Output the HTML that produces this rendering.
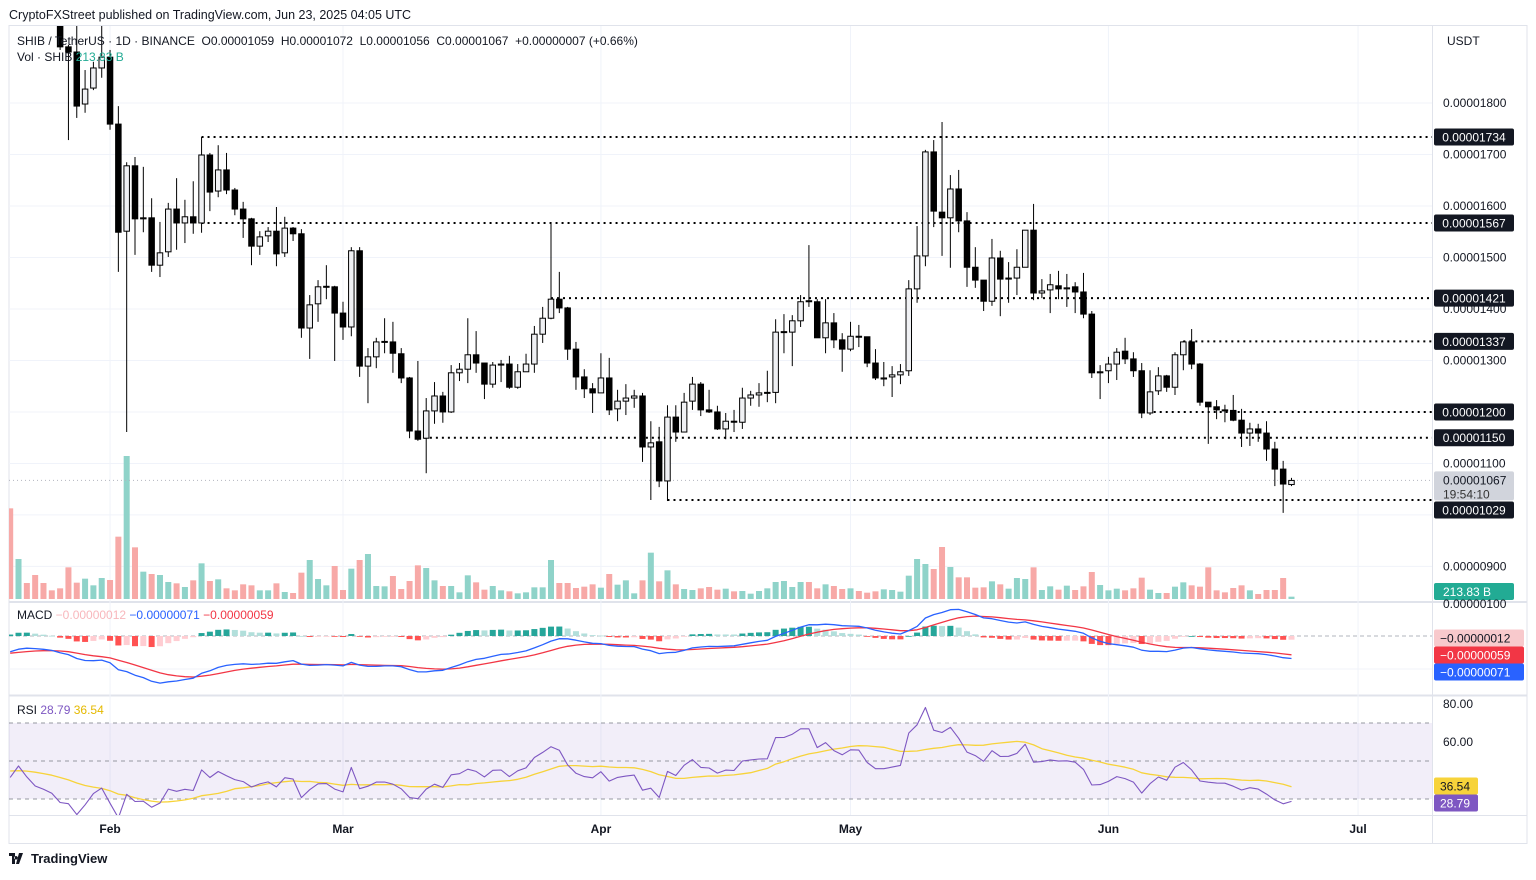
<!DOCTYPE html>
<html><head><meta charset="utf-8">
<style>
html,body{margin:0;padding:0;background:#fff;}
body{width:1536px;height:875px;overflow:hidden;font-family:"Liberation Sans",Arial,sans-serif;}
svg text{font-family:"Liberation Sans",Arial,sans-serif;}
</style></head>
<body>
<svg id="chart" width="1536" height="875" viewBox="0 0 1536 875" xmlns="http://www.w3.org/2000/svg">
  <defs>
    <clipPath id="pricePane"><rect x="9" y="26" width="1423" height="575"/></clipPath>
    <clipPath id="macdPane"><rect x="9" y="603" width="1423" height="91"/></clipPath>
    <clipPath id="rsiPane"><rect x="9" y="697" width="1423" height="118"/></clipPath>
  </defs>
  <text x="9" y="19" font-size="12.5" fill="#131722">CryptoFXStreet published on TradingView.com, Jun 23, 2025 04:05 UTC</text>
  <rect x="9" y="25.5" width="1518" height="818" fill="none" stroke="#e0e3eb"/>
  <line x1="1432.5" y1="26" x2="1432.5" y2="843" stroke="#e0e3eb"/>
  <line x1="9" y1="602" x2="1527" y2="602" stroke="#e0e3eb" stroke-width="2"/>
  <line x1="9" y1="695.5" x2="1527" y2="695.5" stroke="#e0e3eb" stroke-width="2"/>
  <line x1="9" y1="815.5" x2="1527" y2="815.5" stroke="#e0e3eb"/>
  <g id="grid"></g>
  <g id="rsiBand"></g>
  <g id="vol" clip-path="url(#pricePane)"></g>
  <g id="levels"></g>
  <g id="candles" clip-path="url(#pricePane)"></g>
  <g id="macd" clip-path="url(#macdPane)"></g>
  <g id="rsi" clip-path="url(#rsiPane)"></g>
  <g id="axis"></g>

  <rect x="12" y="31" width="625" height="16" fill="#ffffff" fill-opacity="0.0"/>
  <text x="17" y="45" font-size="12" fill="#131722">SHIB / TetherUS · 1D · BINANCE &#160;O0.00001059 &#160;H0.00001072 &#160;L0.00001056 &#160;C0.00001067 &#160;+0.00000007 (+0.66%)</text>
  <text x="17" y="61" font-size="12" fill="#131722">Vol · SHIB <tspan fill="#22ab94">213.83 B</tspan></text>
  <text x="17" y="619" font-size="12" fill="#131722">MACD <tspan fill="#f8b7bc">−0.00000012</tspan> <tspan fill="#2962ff">−0.00000071</tspan> <tspan fill="#f23645">−0.00000059</tspan></text>
  <text x="17" y="714" font-size="12" fill="#131722">RSI <tspan fill="#7e57c2">28.79</tspan> <tspan fill="#e5b900">36.54</tspan></text>
  <text x="1447" y="45" font-size="12" fill="#131722">USDT</text>
  <g>
    <path d="M9 853 h6 v11 h-3 v-8 h-3z M16 856 a1.8 1.8 0 1 0 0.01 0z M19 853 h4 l-4 11 h-3z" fill="#131722"/>
    <text x="31" y="863" font-size="13" font-weight="bold" fill="#131722">TradingView</text>
  </g>
</svg>
<script>
// ---------- DATA (prices in units of 1e-8 USDT; first bar = Jan 20, 2025) ----------
const startLabel = "2025-01-20";
const open  = [2150,2080,2120,2070,2020,2000,1971,1909,1899,1798,1829,1868,1889,1759,1551,1678,1575,1577,1485,1511,1594,1567,1579,1567,1699,1629,1670,1631,1594,1575,1522,1542,1551,1509,1557,1546,1363,1410,1443,1443,1392,1365,1513,1289,1307,1336,1336,1313,1266,1163,1149,1202,1231,1200,1276,1283,1311,1295,1254,1291,1293,1248,1278,1293,1351,1382,1419,1402,1322,1268,1245,1237,1266,1206,1221,1227,1231,1132,1142,1066,1190,1161,1221,1254,1204,1200,1167,1182,1180,1227,1233,1237,1238,1355,1355,1377,1416,1414,1344,1373,1340,1322,1347,1346,1295,1264,1268,1272,1280,1439,1503,1705,1588,1577,1633,1571,1481,1456,1415,1499,1458,1460,1481,1553,1431,1437,1445,1439,1443,1433,1390,1276,1280,1293,1318,1303,1280,1198,1241,1270,1248,1311,1336,1293,1219,1210,1204,1203,1184,1159,1167,1159,1128,1089,1059];
const high  = [2200,2140,2160,2110,2060,2030,1981,1913,1961,1864,1880,1951,1903,1794,1685,1695,1676,1615,1569,1606,1654,1612,1648,1734,1703,1718,1703,1635,1608,1577,1551,1559,1598,1579,1559,1555,1427,1456,1485,1445,1414,1520,1520,1324,1344,1382,1375,1324,1268,1299,1227,1258,1239,1291,1295,1382,1357,1295,1297,1301,1309,1293,1313,1367,1404,1567,1472,1404,1336,1283,1256,1314,1305,1243,1254,1243,1237,1182,1171,1213,1213,1237,1268,1258,1243,1212,1198,1204,1247,1241,1256,1280,1380,1390,1388,1427,1524,1419,1419,1392,1353,1375,1369,1346,1322,1297,1289,1293,1456,1561,1709,1728,1763,1660,1670,1588,1520,1456,1536,1513,1491,1516,1553,1604,1458,1468,1474,1468,1452,1470,1396,1291,1307,1324,1344,1316,1295,1281,1287,1272,1316,1338,1361,1295,1219,1223,1214,1233,1206,1179,1177,1182,1142,1105,1072];
const low   = [2060,2060,2050,2000,1990,1962,1903,1728,1771,1781,1825,1849,1748,1472,1161,1505,1549,1472,1462,1501,1515,1528,1546,1548,1590,1617,1623,1582,1538,1485,1505,1530,1483,1501,1532,1344,1303,1375,1419,1299,1340,1347,1268,1217,1285,1314,1276,1256,1149,1144,1081,1177,1179,1198,1260,1256,1276,1225,1247,1258,1245,1245,1278,1276,1334,1380,1392,1301,1243,1227,1198,1237,1194,1182,1194,1208,1103,1029,1054,1027,1142,1161,1204,1192,1198,1165,1147,1161,1167,1212,1210,1219,1217,1314,1289,1365,1404,1344,1314,1324,1278,1318,1326,1287,1262,1250,1229,1254,1270,1412,1483,1559,1503,1480,1549,1443,1441,1396,1406,1386,1412,1427,1481,1417,1421,1392,1419,1404,1392,1382,1266,1225,1256,1262,1293,1268,1188,1194,1233,1239,1233,1281,1283,1212,1138,1186,1180,1182,1132,1134,1142,1105,1056,1004,1056];
const close = [2080,2120,2070,2020,2000,1975,1909,1899,1794,1827,1868,1889,1759,1549,1678,1575,1577,1485,1509,1594,1567,1579,1567,1699,1627,1670,1631,1594,1575,1522,1540,1551,1507,1557,1546,1363,1408,1443,1444,1392,1365,1513,1289,1307,1336,1337,1314,1266,1163,1147,1202,1231,1200,1276,1283,1311,1295,1254,1291,1293,1248,1278,1293,1351,1382,1419,1402,1322,1268,1245,1237,1266,1204,1221,1227,1231,1132,1140,1066,1190,1161,1219,1254,1204,1200,1167,1182,1180,1227,1233,1237,1238,1355,1356,1377,1414,1414,1344,1373,1340,1322,1347,1346,1295,1266,1266,1272,1278,1439,1503,1705,1590,1577,1633,1571,1481,1456,1415,1499,1458,1460,1481,1553,1431,1435,1447,1439,1441,1433,1390,1276,1278,1293,1316,1303,1280,1198,1239,1270,1248,1311,1336,1293,1219,1210,1204,1203,1184,1159,1167,1159,1128,1089,1060,1067];
// volume in units of 30B
const volume = [272,120,48,72,48,26,32,95,49,61,41,63,57,187,429,155,82,75,72,51,47,36,56,107,54,59,32,26,44,41,26,26,47,21,18,79,117,60,41,99,27,91,117,135,39,38,69,30,54,101,93,56,39,39,20,71,50,28,39,26,23,17,20,35,35,117,48,48,33,37,44,34,75,43,56,17,56,139,53,86,44,30,27,32,36,28,31,23,24,16,24,32,51,54,36,51,51,32,44,39,30,32,24,19,23,29,27,22,70,120,105,90,156,96,65,65,34,35,53,44,31,63,60,95,27,38,28,40,27,38,81,42,26,31,26,32,64,28,18,18,37,50,41,37,95,26,20,33,41,26,15,27,27,63,7];
const priceTicks = [1800,1700,1600,1500,1400,1300,1100,900];
const priceTickLabels = ["0.00001800","0.00001700","0.00001600","0.00001500","0.00001400","0.00001300","0.00001100","0.00000900"];
const levelPrices = [1734,1567,1421,1337,1200,1150,1029];
const levelStartBar = [23,23,65,141,136,49,79];
const levelLabels = ["0.00001734","0.00001567","0.00001421","0.00001337","0.00001200","0.00001150","0.00001029"];
const monthLabels = ["Feb","Mar","Apr","May","Jun","Jul"];
const monthBar = [12,40,71,101,132,162];
const rsiTicks = [80,60];
const rsiTickLabels = ["80.00","60.00"];

// ---------- AXES ----------
const NS = "http://www.w3.org/2000/svg";
function mk(tag, attrs, parent){const e=document.createElementNS(NS,tag);for(const k in attrs)e.setAttribute(k,attrs[k]);parent.appendChild(e);return e;}
const X0 = 10.2, DX = 8.32;
function xOf(i){return X0 + i*DX;}
function yPrice(p){return (2000 - p)/1.942;}
function yVol(v){return 599 - v/3;}
const MACD_ZERO = 636, MACD_K = 0.32;
function yMacd(v){return MACD_ZERO - v*MACD_K;}
function yRsi(v){return 742 + (60 - v)*1.9;}

const grid = document.getElementById('grid');
const axis = document.getElementById('axis');
priceTicks.forEach((p,k)=>{
  const g = mk('line',{x1:9,x2:1432,y1:yPrice(p),y2:yPrice(p),stroke:'#f0f3fa'},grid);
  
  
  const t = mk('text',{x:1443,y:yPrice(p)+4,'font-size':12,fill:'#131722'},axis);
  t.textContent = priceTickLabels[k];
  
  
});
[1200,1000].forEach(p=>{
  const g = mk('line',{x1:9,x2:1432,y1:yPrice(p),y2:yPrice(p),stroke:'#f0f3fa'},grid);
  
  
});
monthBar.forEach((b,k)=>{
  const x = xOf(b);
  const g = mk('line',{x1:x,x2:x,y1:26,y2:815,stroke:'#f0f3fa'},grid);
  
  
  const t = mk('text',{x:x,y:833,'font-size':12,'font-weight':'bold','text-anchor':'middle',fill:'#131722'},axis);
  t.textContent = monthLabels[k];
  
  
});
// volume axis label
{
  const t = mk('text',{x:1443,y:608,'font-size':12,fill:'#131722'},axis);
  t.textContent = "0.00000100";
  
  
}
// MACD zero line
{
  const z = mk('line',{x1:9,x2:1432,y1:MACD_ZERO,y2:MACD_ZERO,stroke:'#b2b5be','stroke-dasharray':'4 3'},grid);
  
  
  const g2 = mk('line',{x1:9,x2:1432,y1:669,y2:669,stroke:'#f0f3fa'},grid);
  
  
}
// RSI band and grid
{
  const band = document.getElementById('rsiBand');
  const r = mk('rect',{x:9,y:yRsi(70),width:1423,height:yRsi(30)-yRsi(70),fill:'#7e57c2','fill-opacity':0.1},band);
  
  
  [70,50,30].forEach(v=>{
    const l = mk('line',{x1:9,x2:1432,y1:yRsi(v),y2:yRsi(v),stroke:'#9598a1','stroke-dasharray':'4 4'},band);
    
    
  });
  rsiTicks.forEach((v,k)=>{
    const t = mk('text',{x:1443,y:yRsi(v)+4,'font-size':12,fill:'#131722'},axis);
    t.textContent = rsiTickLabels[k];
    
    
  });
}

// ---------- VOLUME ----------
const vg = document.getElementById('vol');
volume.forEach((v,i)=>{
  const up = close[i] >= open[i];
  const r = mk('rect',{x:xOf(i)-3,y:yVol(v),width:6,height:599-yVol(v),fill:up?'#8fd3c9':'#f7a9a7'},vg);
  
  
});

// ---------- CANDLES ----------
const cg = document.getElementById('candles');
for(let i=0;i<close.length;i++){
  const x = xOf(i);
  const w = mk('line',{x1:x,x2:x,y1:yPrice(high[i]),y2:yPrice(low[i]),stroke:'#000','stroke-width':1},cg);
  
  
  const up = close[i] >= open[i];
  const yt = yPrice(Math.max(open[i],close[i])), yb = yPrice(Math.min(open[i],close[i]));
  const b = mk('rect',{x:x-2.75,y:yt,width:5.5,height:Math.max(1,yb-yt),fill:up?'#f0f1f4':'#000',stroke:'#000','stroke-width':1},cg);
  
  
}

// ---------- LEVELS ----------
const lg = document.getElementById('levels');
const lastY = yPrice(close[close.length-1]);
{
  const l = mk('line',{x1:9,x2:1432,y1:lastY,y2:lastY,stroke:'#b2b5be','stroke-dasharray':'1 3'},lg);
  
  
}
levelPrices.forEach((p,k)=>{
  const y = yPrice(p);
  const l = mk('line',{x1:xOf(levelStartBar[k]),x2:1432,y1:y,y2:y,stroke:'#000','stroke-width':2,'stroke-dasharray':'2 4'},lg);
  
  
  const ty = (k===levelPrices.length-1) ? y+10 : y;
  const r = mk('rect',{x:1434,y:ty-8.5,width:80,height:17,rx:2,fill:'#131722'},lg);
  
  
  const t = mk('text',{x:1474,y:ty+4.5,'font-size':12,'text-anchor':'middle',fill:'#fff'},lg);
  t.textContent = levelLabels[k];
  
  
});
{
  const r = mk('rect',{x:1434,y:lastY-9,width:80,height:29,rx:2,fill:'#d1d4dc'},lg);
  
  
  const t = mk('text',{x:1443,y:lastY+4,'font-size':12,fill:'#131722'},lg);
  t.textContent = "0.00001067";
  
  
  const t2 = mk('text',{x:1443,y:lastY+18,'font-size':12,fill:'#333'},lg);
  t2.textContent = "19:54:10";
  
  
  const vr = mk('rect',{x:1434,y:583,width:80,height:17,rx:2,fill:'#22ab94'},lg);
  
  
  const vt = mk('text',{x:1443,y:596,'font-size':12,fill:'#fff'},lg);
  vt.textContent = "213.83 B";
  
  
}

// ---------- MACD (12,26,9) ----------
const macdLine=[], signalLine=[], hist=[];
{
  let e12 = close[0] - 20, e26 = close[0] + 35, sig = -55;
  const a12=2/13, a26=2/27, a9=2/10;
  for(let i=0;i<close.length;i++){
    e12 = e12 + a12*(close[i]-e12);
    e26 = e26 + a26*(close[i]-e26);
    const m = e12 - e26;
    sig = sig + a9*(m - sig);
    macdLine.push(m); signalLine.push(sig); hist.push(m - sig);
  }
}
const mg = document.getElementById('macd');
hist.forEach((h,i)=>{
  const prev = i>0 ? hist[i-1] : h;
  let col;
  if(h>=0) col = h>=prev ? '#26a69a' : '#b2dfdb';
  else col = h<=prev ? '#ff5252' : '#ffcdd2';
  const y1 = yMacd(Math.max(h,0)), y2 = yMacd(Math.min(h,0));
  const r = mk('rect',{x:xOf(i)-3,y:y1,width:6,height:Math.max(0.8,y2-y1),fill:col},mg);
  
  
});
function poly(arr, yf, color, parent, name, width){
  const d = arr.map((v,i)=>(i?'L':'M')+xOf(i).toFixed(1)+' '+yf(v).toFixed(1)).join(' ');
  const p = mk('path',{d:d,fill:'none',stroke:color,'stroke-width':width||1.3,'stroke-linejoin':'round'},parent);
  
  
  return p;
}
poly(signalLine, yMacd, '#f23645', mg, 'macd-signal-line');
poly(macdLine, yMacd, '#2962ff', mg, 'macd-line');
{
  const tags = [["−0.00000012",'#f8c9cc','#131722',638],["−0.00000059",'#f23645','#fff',655],["−0.00000071",'#2962ff','#fff',672]];
  tags.forEach(t=>{
    const r = mk('rect',{x:1434,y:t[3]-8.5,width:90,height:17,rx:2,fill:t[1]},axis);
    
    
    const tx = mk('text',{x:1440,y:t[3]+4.5,'font-size':12,fill:t[2]},axis);
    tx.textContent = t[0];
    
    
  });
}

// ---------- RSI (14) + MA(14) ----------
const rsiVals=[], rsiMa=[];
{
  let ag = 12, al = 17;
  for(let i=0;i<close.length;i++){
    const ch = i>0 ? close[i]-close[i-1] : 0;
    ag = (ag*13 + Math.max(ch,0))/14;
    al = (al*13 + Math.max(-ch,0))/14;
    rsiVals.push(100 - 100/(1+ag/al));
  }
  for(let i=0;i<rsiVals.length;i++){
    const s = Math.max(0,i-13); let sum=0,n=0;
    for(let j=s;j<=i;j++){sum+=rsiVals[j];n++;}
    const pad = 14-n;
    rsiMa.push((sum + pad*45)/14);
  }
}
const rg = document.getElementById('rsi');
poly(rsiMa, yRsi, '#f7d33a', rg, 'rsi-ma-line', 1.3);
poly(rsiVals, yRsi, '#7e57c2', rg, 'rsi-line', 1.1);
{
  const tags = [["36.54",'#f7d33a','#131722',786],["28.79",'#7e57c2','#fff',803]];
  tags.forEach(t=>{
    const r = mk('rect',{x:1434,y:t[3]-8.5,width:44,height:17,rx:2,fill:t[1]},axis);
    
    
    const tx = mk('text',{x:1440,y:t[3]+4.5,'font-size':12,fill:t[2]},axis);
    tx.textContent = t[0];
    
    
  });
}
</script>
</body></html>
